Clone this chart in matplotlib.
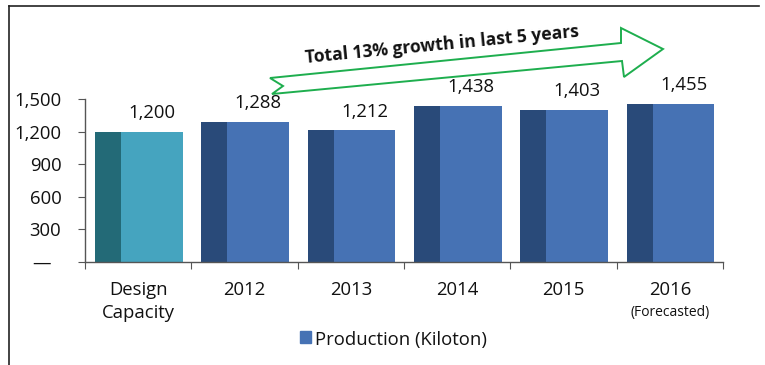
import matplotlib
matplotlib.use("Agg")
import matplotlib.pyplot as plt
from matplotlib.patches import Polygon, Rectangle
from matplotlib.lines import Line2D

plt.rcParams['font.family'] = ['Open Sans', 'DejaVu Sans']

categories = ['Design\nCapacity', '2012', '2013', '2014', '2015', '2016']
production = [1200, 1288, 1212, 1438, 1403, 1455]
y_ticks = [0, 300, 600, 900, 1200, 1500]
y_tick_labels = ['—  ', '300', '600', '900', '1,200', '1,500']
side_colors = ['#236A77'] + ['#294A79'] * 5
face_colors = ['#45A4BF'] + ['#4672B4'] * 5

W, H = 765, 365
FS = 13.3


def px(x, y):
    # pixel position (from top-left) -> figure fraction
    return x / W, 1 - y / H


fig = plt.figure(figsize=(W / 100, H / 100), dpi=100)
ax = fig.add_axes([85 / W, (H - 262) / H, (723 - 85) / W, (262 - 99) / H])

xs = range(len(categories))
# dark side strip + lighter front face give the bars a flat 3D look
ax.bar([x - 0.405 for x in xs], production, width=0.245, align='edge',
       color=side_colors, zorder=2)
ax.bar([x - 0.16 for x in xs], production, width=0.58, align='edge',
       color=face_colors, zorder=2)

for x, v in zip(xs, production):
    ax.annotate(f'{v:,}', (x + 0.13, v), xytext=(0, 7), textcoords='offset points',
                ha='center', va='bottom', fontsize=FS, color='#111111',
                annotation_clip=False)

ax.set_xlim(-0.5, 5.5)
ax.set_ylim(0, 1500)
ax.set_xticks([x - 0.5 for x in range(len(categories) + 1)])
ax.set_xticklabels([])
ax.set_xticks(list(xs), minor=True)
ax.set_xticklabels(categories, minor=True, fontsize=FS, color='#111111',
                   linespacing=1.35)
ax.tick_params(axis='x', which='major', length=5, color='#555555', direction='out')
ax.tick_params(axis='x', which='minor', length=0, pad=14)
ax.set_yticks(y_ticks)
ax.set_yticklabels(y_tick_labels, fontsize=FS, color='#111111')
ax.tick_params(axis='y', length=5, color='#555555', pad=12)
for s in ['top', 'right']:
    ax.spines[s].set_visible(False)
for s in ['left', 'bottom']:
    ax.spines[s].set_color('#555555')
    ax.spines[s].set_linewidth(1.0)

ax.annotate('(Forecasted)', (5, 0), xycoords=('data', 'axes fraction'),
            xytext=(0, -31), textcoords='offset points', ha='center', va='top',
            fontsize=10, color='#111111')

# legend entry below the axis
fig.patches.append(Rectangle(px(300, 343), 11 / W, 12 / H, transform=fig.transFigure,
                             color='#4672B4'))
fig.text(*px(315, 340), 'Production (Kiloton)', fontsize=FS, color='#111111',
         va='center', ha='left')

# growth arrow
arrow_pts = [(270, 78), (283, 86), (272, 94), (622, 61), (624, 77),
             (663, 49), (621, 28), (621, 43)]
fig.patches.append(Polygon([px(x, y) for x, y in arrow_pts], closed=True,
                           transform=fig.transFigure, fill=False,
                           edgecolor='#1EAE4E', linewidth=1.4))
fig.text(*px(442, 45), 'Total 13% growth in last 5 years', fontsize=12.6,
         fontweight='bold', color='#111111', rotation=5.5,
         ha='center', va='center', rotation_mode='anchor')

# frame lines along the top and left edges
fig.add_artist(Line2D([px(9, 6)[0], px(759, 6)[0]], [px(9, 6)[1]] * 2,
                      color='#222222', linewidth=1.2))
fig.add_artist(Line2D([px(9, 6)[0]] * 2, [px(9, 6)[1], 0],
                      color='#222222', linewidth=1.2))

fig.savefig('out.png', dpi=100)
